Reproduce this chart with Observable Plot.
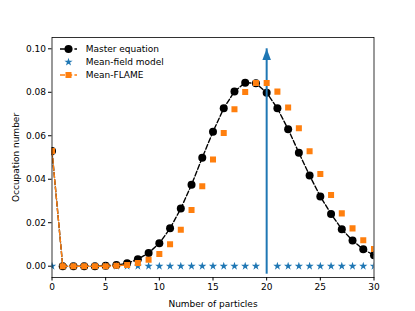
<!DOCTYPE html>
<html><head><meta charset="utf-8">
<script src="https://cdn.jsdelivr.net/npm/d3@7"></script>
<script src="https://cdn.jsdelivr.net/npm/@observablehq/plot@0.6"></script>
<style>
body{margin:0;background:#fff;}
#wrap{position:relative;width:415px;height:311px;font-family:"DejaVu Sans",sans-serif;}
#legend{position:absolute;left:0;top:0;pointer-events:none;}
</style></head><body><div id="wrap"></div>
<script>
const particles = [0,1,2,3,4,5,6,7,8,9,10,11,12,13,14,15,16,17,18,19,20,21,22,23,24,25,26,27,28,29,30];
const masterEquation = [0.053,0,0,0,0,0.0002,0.0005,0.0013,0.0032,0.0061,0.0105,0.0174,0.0265,0.0375,0.0499,0.0619,0.0726,0.0804,0.0844,0.0841,0.0798,0.0726,0.063,0.0522,0.0417,0.0321,0.024,0.017,0.0118,0.0078,0.005];
const meanFlame = [0.053,0,0,0,0,0,0.0002,0.0006,0.0015,0.003,0.0056,0.0101,0.0168,0.0258,0.0368,0.0491,0.0613,0.0722,0.0801,0.0843,0.0843,0.0803,0.073,0.0635,0.0529,0.0424,0.0327,0.0243,0.0174,0.0119,0.0079];
const meanFieldX = [0,1,2,3,4,5,6,7,8,9,10,11,12,13,14,15,16,17,18,19,21,22,23,24,25,26,27,28,29,30];
const meanFieldY = [0,0,0,0,0,0,0,0,0,0,0,0,0,0,0,0,0,0,0,0,0,0,0,0,0,0,0,0,0,0];
const deltaX = [20];
const deltaY = [0.1];
const flameLineLast = 7;
const xTicks = [0,5,10,15,20,25,30];
const yTicks = [0,0.02,0.04,0.06,0.08,0.10];
const seriesNames = ["Master equation","Mean-field model","Mean-FLAME"];

const blue = "#1f77b4", orange = "#ff7f0e";
const master = particles.map((x,i)=>({x, y: masterEquation[i]}));
const flame = particles.map((x,i)=>({x, y: meanFlame[i]}));
const flameLine = flame.filter(d => d.x <= flameLineLast);
const field = meanFieldX.map((x,i)=>({x, y: meanFieldY[i]}));
const delta = deltaX.map((x,i)=>({x, y: deltaY[i]}));

const arrowHead = {draw(ctx, size){ const r = Math.sqrt(size/Math.PI); ctx.moveTo(0,0); ctx.lineTo(-r, 2.6*r); ctx.lineTo(r, 2.6*r); ctx.closePath(); }};

const plot = Plot.plot({
  width: 415, height: 311,
  marginLeft: 51.5, marginRight: 41.5, marginTop: 37, marginBottom: 34,
  style: {fontFamily: "DejaVu Sans, sans-serif", fontSize: "9px", color: "black", background: "white"},
  x: {domain: [0, 30]},
  y: {domain: [-0.0052, 0.1052]},
  marks: [
    Plot.axisX({ticks: xTicks, tickSize: 3.5, tickPadding: 2.5, tickFormat: d3.format("d"), label: "Number of particles", labelAnchor: "center", labelArrow: "none", labelOffset: 29, fontSize: 9}),
    Plot.axisY({ticks: yTicks, tickSize: 3.5, tickPadding: 2.5, tickFormat: d3.format(".2f"), label: "Occupation number", labelAnchor: "center", labelArrow: "none", labelOffset: 39, fontSize: 9}),
    Plot.line(master, {x: "x", y: "y", stroke: "black", strokeWidth: 1.4, strokeDasharray: "5,2.2", clip: true}),
    Plot.dot(master, {x: "x", y: "y", fill: "black", r: 4, clip: true}),
    Plot.dot(field, {x: "x", y: "y", symbol: "star", fill: blue, r: 2.6, clip: true}),
    Plot.ruleX(delta, {x: "x", y1: 0, y2: "y", stroke: blue, strokeWidth: 2, insetTop: 8}),
    Plot.dot(delta, {x: "x", y: "y", symbol: arrowHead, fill: blue, r: 4.3}),
    Plot.line(flameLine, {x: "x", y: "y", stroke: orange, strokeWidth: 1.4, strokeDasharray: "5,2.2", clip: true}),
    Plot.dot(flame, {x: "x", y: "y", symbol: "square", fill: orange, r: 3.4, clip: true}),
    Plot.frame({stroke: "black", strokeWidth: 0.8})
  ]
});
const wrap = document.getElementById("wrap");
wrap.appendChild(plot);

// legend
const ns = "http://www.w3.org/2000/svg";
const lg = document.createElementNS(ns, "svg");
lg.setAttribute("id","legend"); lg.setAttribute("width",415); lg.setAttribute("height",311);
const rows = [49, 62, 75];
const sw = [
  {stroke:"black", line:true, sym:"circle", fill:"black"},
  {line:false, sym:"star", fill:blue},
  {stroke:orange, line:true, sym:"square", fill:orange}
];
rows.forEach((yy,i)=>{
  const s = sw[i];
  if (s.line) {
    const l = document.createElementNS(ns,"line");
    l.setAttribute("x1",60); l.setAttribute("x2",77); l.setAttribute("y1",yy); l.setAttribute("y2",yy);
    l.setAttribute("stroke",s.stroke); l.setAttribute("stroke-width",1.4); l.setAttribute("stroke-dasharray","5,2.2");
    lg.appendChild(l);
  }
  const p = document.createElementNS(ns,"path");
  const symMap = {circle: d3.symbolCircle, star: d3.symbolStar, square: d3.symbolSquare};
  const rr = s.sym==="circle"?4:(s.sym==="star"?2.6:3.4);
  p.setAttribute("d", d3.symbol(symMap[s.sym], rr*rr*Math.PI)());
  p.setAttribute("transform",`translate(68.5,${yy})`);
  p.setAttribute("fill",s.fill);
  lg.appendChild(p);
  const t = document.createElementNS(ns,"text");
  t.setAttribute("x",85.7); t.setAttribute("y",yy); t.setAttribute("dy","0.35em");
  t.setAttribute("font-size","9px"); t.setAttribute("font-family","DejaVu Sans, sans-serif");
  t.textContent = seriesNames[i];
  lg.appendChild(t);
});
wrap.appendChild(lg);
</script>
</body></html>
